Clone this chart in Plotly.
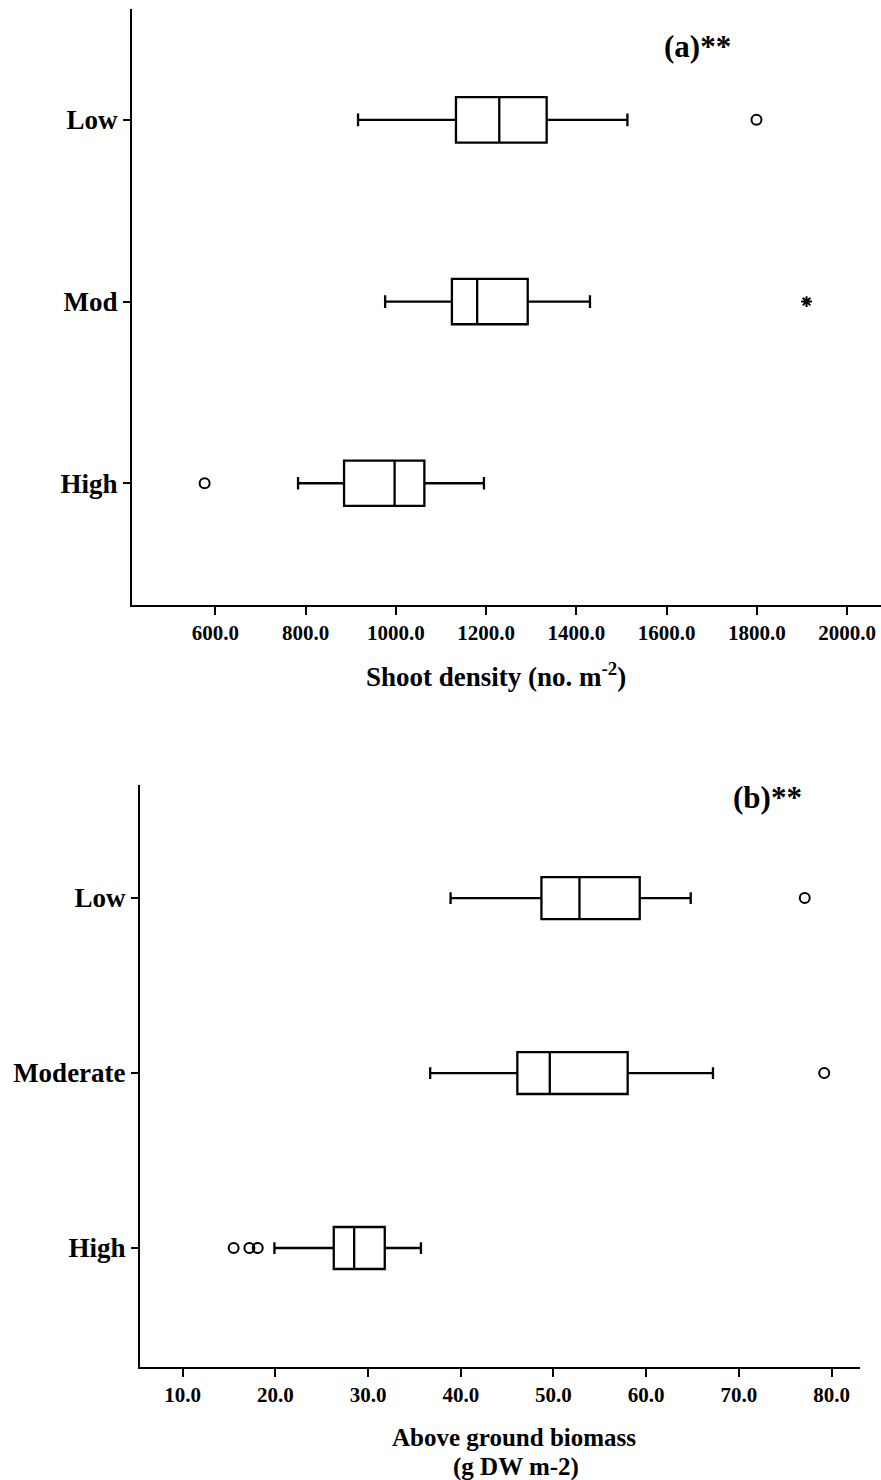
import plotly.graph_objects as go

# ---- Data (a) Shoot density ----
cats_a = ["High", "Mod", "Low"]
a_lower = [783, 976, 916]
a_q1 = [885, 1124, 1133]
a_median = [997, 1180, 1229]
a_q3 = [1063, 1292, 1334]
a_upper = [1195, 1430, 1513]
a_out_circle_cat = ["High", "Low"]
a_out_circle_val = [576, 1799]
a_out_star_cat = ["Mod"]
a_out_star_val = [1910]
a_ticks = [600, 800, 1000, 1200, 1400, 1600, 1800, 2000]

# ---- Data (b) Above ground biomass ----
cats_b = ["High", "Moderate", "Low"]
b_lower = [19.9, 36.7, 38.9]
b_q1 = [26.3, 46.1, 48.7]
b_median = [28.5, 49.6, 52.8]
b_q3 = [31.8, 58.0, 59.3]
b_upper = [35.7, 67.2, 64.8]
b_out_cat = ["High", "High", "High", "Moderate", "Low"]
b_out_val = [15.5, 17.2, 18.1, 79.2, 77.1]
b_ticks = [10, 20, 30, 40, 50, 60, 70, 80]

FONT = "Liberation Serif"
W, H = 881, 1480

fig = go.Figure()

fig.add_trace(go.Box(
    y=cats_a, q1=a_q1, median=a_median, q3=a_q3,
    lowerfence=a_lower, upperfence=a_upper,
    orientation="h", xaxis="x", yaxis="y",
    fillcolor="white", line=dict(color="black", width=2.3),
    width=0.25, whiskerwidth=0.28, boxpoints=False, showlegend=False,
    hoverinfo="skip"))
fig.add_trace(go.Scatter(
    x=a_out_circle_val, y=a_out_circle_cat, mode="markers",
    xaxis="x", yaxis="y", showlegend=False,
    marker=dict(symbol="circle-open", size=10, color="black",
                line=dict(width=2, color="black"))))
fig.add_trace(go.Scatter(
    x=a_out_star_val, y=a_out_star_cat, mode="markers",
    xaxis="x", yaxis="y", showlegend=False,
    marker=dict(symbol="asterisk-open", size=9, color="black",
                line=dict(width=2, color="black"))))

fig.add_trace(go.Box(
    y=cats_b, q1=b_q1, median=b_median, q3=b_q3,
    lowerfence=b_lower, upperfence=b_upper,
    orientation="h", xaxis="x2", yaxis="y2",
    fillcolor="white", line=dict(color="black", width=2.3),
    width=0.24, whiskerwidth=0.28, boxpoints=False, showlegend=False,
    hoverinfo="skip"))
fig.add_trace(go.Scatter(
    x=b_out_val, y=b_out_cat, mode="markers",
    xaxis="x2", yaxis="y2", showlegend=False,
    marker=dict(symbol="circle-open", size=10, color="black",
                line=dict(width=2, color="black"))))

axis_common = dict(showline=True, linecolor="black", linewidth=2,
                   showgrid=False, zeroline=False, ticks="outside",
                   tickcolor="black", tickwidth=2)

fig.update_layout(
    width=W, height=H,
    margin=dict(l=0, r=0, t=0, b=0),
    paper_bgcolor="white", plot_bgcolor="white",
    font=dict(family=FONT, color="black"),
    xaxis=dict(**axis_common, domain=[132 / W, 1.0], anchor="y",
               range=[415, 2075], tickvals=a_ticks, tickformat=".1f",
               ticklen=8,
               tickfont=dict(family=FONT, size=21, color="black", weight="bold")),
    yaxis=dict(**axis_common, domain=[1 - 605 / H, 1 - 9 / H], anchor="x",
               type="category", categoryorder="array", categoryarray=cats_a,
               range=[-0.67, 2.61], ticklen=7,
               tickfont=dict(family=FONT, size=27, color="black", weight="bold")),
    xaxis2=dict(**axis_common, domain=[140 / W, 860 / W], anchor="y2",
                range=[5.4, 83.06], tickvals=b_ticks, tickformat=".1f",
                ticklen=8,
                tickfont=dict(family=FONT, size=21, color="black", weight="bold")),
    yaxis2=dict(**axis_common, domain=[1 - 1367 / H, 1 - 785 / H], anchor="x2",
                type="category", categoryorder="array", categoryarray=cats_b,
                range=[-0.68, 2.646], ticklen=7,
                tickfont=dict(family=FONT, size=27, color="black", weight="bold")),
)

def ann(text, x, y, size):
    fig.add_annotation(text=text, x=x / W, y=1 - y / H, xref="paper", yref="paper",
                       showarrow=False, xanchor="center", yanchor="middle",
                       font=dict(family=FONT, size=size, color="black", weight="bold"))

ann("(a)**", 697, 47, 31)
ann("(b)**", 767, 797, 31)
ann("Shoot density (no. m<sup>-2</sup>)", 496, 675, 27)
ann("Above ground biomass", 514, 1437, 25)
ann("(g DW m-2)", 516, 1467, 25)

fig.write_html("out.html")
